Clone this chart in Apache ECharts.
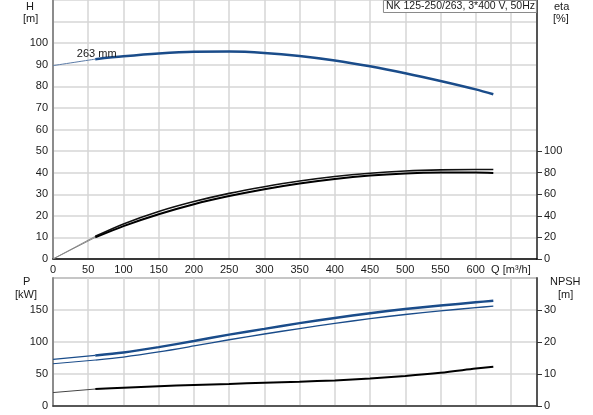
<!DOCTYPE html>
<html lang="en">
<head>
<meta charset="utf-8">
<title>NK 125-250/263 pump curves</title>
<style>
* { margin: 0; padding: 0; }
#chart-container { position: relative; width: 593px; height: 415px; overflow: hidden; background: #fff; }
</style>
</head>
<body>
<div id="chart-container"></div>
<script src="https://cdn.jsdelivr.net/npm/echarts@6/dist/echarts.min.js"></script>
<script>
// flow points (m3/h); the 0..60 part is drawn thin (extrapolated)
const qExt = [0, 60];
const q = [60, 100, 150, 200, 250, 300, 350, 400, 450, 500, 550, 600, 625];

// head H [m]
const headExt = [89.6, 92.6];
const head = [92.6, 93.9, 95.2, 96.0, 96.1, 95.5, 94.1, 92.0, 89.3, 86.1, 82.5, 78.6, 76.3];

// efficiency eta [%]
const etaAExt = [0, 21];
const etaA = [21, 32.5, 44, 53.2, 60.8, 67, 72.3, 76.5, 79.5, 81.5, 82.6, 83, 83];
const etaBExt = [0, 20];
const etaB = [20, 30.5, 41.5, 50.8, 58.3, 64.7, 70, 74.2, 77.3, 79.2, 80.1, 80.2, 79.8];

// power P1 / P2 [kW]
const p1Ext = [72.7, 79];
const p1 = [79, 83.6, 92, 101.5, 111.5, 120.5, 129.5, 137.5, 145, 151.5, 157, 162, 164.5];
const p2Ext = [66, 71.8];
const p2 = [71.8, 76.5, 84.5, 93.8, 103.5, 112.5, 121, 129, 136.5, 143, 148.5, 153.7, 156];

// NPSH [m]
const npshExt = [4.2, 5.3];
const npsh = [5.3, 5.7, 6.2, 6.6, 6.9, 7.3, 7.6, 8.0, 8.6, 9.4, 10.4, 11.7, 12.3];

const hLabels = [0, 10, 20, 30, 40, 50, 60, 70, 80, 90, 100];
const etaLabels = [0, 20, 40, 60, 80, 100];
const pLabels = [0, 50, 100, 150];
const npshLabels = [0, 10, 20, 30];

const BLUE = '#1a4c8a';
const FONT = 'Liberation Sans';

function pairs(xs, ys) {
  return xs.map((x, i) => [x, ys[i]]);
}
function withEndLabel(xs, ys, text, pos) {
  const d = pairs(xs, ys);
  const last = d.length - 1;
  d[last] = {
    value: d[last],
    label: { show: true, formatter: text, position: pos, distance: 3, color: BLUE, fontSize: 11, fontFamily: FONT }
  };
  return d;
}

var dom = document.getElementById('chart-container');
var myChart = echarts.init(dom, null, { renderer: 'canvas' });

const gridLine = { show: true, lineStyle: { color: '#d6d6d6', width: 1.5 } };
const labelStyle = { color: '#1a1a1a', fontSize: 11, fontFamily: FONT };

var option = {
  animation: false,
  textStyle: { fontFamily: FONT },
  title: {
    text: 'NK 125-250/263, 3*400 V, 50Hz',
    right: 56,
    top: 0,
    padding: [1, 2, 1, 3],
    borderColor: '#8a8a8a',
    borderWidth: 1,
    backgroundColor: '#fff',
    textStyle: { fontSize: 10.5, fontWeight: 'normal', color: '#1a1a1a', fontFamily: FONT }
  },
  grid: [
    { left: 53, right: 56, top: 0, bottom: 156 },
    { left: 53, right: 56, top: 278, bottom: 9, show: true, borderColor: '#333', borderWidth: 1 }
  ],
  xAxis: [
    {
      type: 'value', gridIndex: 0, min: 0, max: 687, interval: 50,
      axisLine: { show: true, lineStyle: { color: '#000', width: 1.5 } },
      axisTick: { show: false },
      axisLabel: Object.assign({}, labelStyle, {
        margin: 5,
        showMaxLabel: true,
        formatter: v => v === 650 ? 'Q [m³/h]' : (v % 50 === 0 && v < 650 ? String(v) : '')
      }),
      splitLine: gridLine
    },
    {
      type: 'value', gridIndex: 1, min: 0, max: 687, interval: 50,
      axisLine: { show: true, lineStyle: { color: '#333', width: 1.5 } },
      axisTick: { show: false },
      axisLabel: { show: false },
      splitLine: gridLine
    }
  ],
  yAxis: [
    {
      type: 'value', gridIndex: 0, min: 0, max: 120, interval: 10,
      axisLine: { show: true, onZero: false, lineStyle: { color: '#8c8c8c', width: 2 } },
      axisTick: { show: false },
      axisLabel: Object.assign({}, labelStyle, { margin: 5, customValues: hLabels }),
      splitLine: gridLine
    },
    {
      type: 'value', gridIndex: 0, position: 'right', min: 0, max: 240, interval: 20,
      axisLine: { show: true, onZero: false, lineStyle: { color: '#555', width: 2 } },
      axisTick: { show: true, length: 5, customValues: etaLabels, lineStyle: { color: '#333' } },
      axisLabel: Object.assign({}, labelStyle, { margin: 7, customValues: etaLabels }),
      splitLine: { show: false }
    },
    {
      type: 'value', gridIndex: 1, min: 0, max: 200, interval: 50,
      axisLine: { show: true, onZero: false, lineStyle: { color: '#8c8c8c', width: 2 } },
      axisTick: { show: false },
      axisLabel: Object.assign({}, labelStyle, { margin: 5, customValues: pLabels }),
      splitLine: gridLine
    },
    {
      type: 'value', gridIndex: 1, position: 'right', min: 0, max: 40, interval: 10,
      axisLine: { show: true, onZero: false, lineStyle: { color: '#555', width: 2 } },
      axisTick: { show: true, length: 5, customValues: npshLabels, lineStyle: { color: '#333' } },
      axisLabel: Object.assign({}, labelStyle, { margin: 7, customValues: npshLabels }),
      splitLine: { show: false }
    }
  ],
  graphic: [
    { type: 'text', left: 26, top: 1, style: { text: 'H', font: '11px ' + FONT, fill: '#1a1a1a' } },
    { type: 'text', left: 23, top: 13, style: { text: '[m]', font: '11px ' + FONT, fill: '#1a1a1a' } },
    { type: 'text', left: 554, top: 1, style: { text: 'eta', font: '11px ' + FONT, fill: '#1a1a1a' } },
    { type: 'text', left: 553, top: 13, style: { text: '[%]', font: '11px ' + FONT, fill: '#1a1a1a' } },
    { type: 'text', left: 23, top: 276, style: { text: 'P', font: '11px ' + FONT, fill: '#1a1a1a' } },
    { type: 'text', left: 15, top: 289, style: { text: '[kW]', font: '11px ' + FONT, fill: '#1a1a1a' } },
    { type: 'text', left: 550, top: 276, style: { text: 'NPSH', font: '11px ' + FONT, fill: '#1a1a1a' } },
    { type: 'text', left: 558, top: 289, style: { text: '[m]', font: '11px ' + FONT, fill: '#1a1a1a' } }
  ],
  series: [
    {
      type: 'line', xAxisIndex: 0, yAxisIndex: 0, showSymbol: false, smooth: 0.3,
      data: pairs(qExt, headExt), lineStyle: { color: '#5a7aa6', width: 1 },
      markPoint: {
        symbol: 'circle', symbolSize: 0,
        label: { show: true, formatter: '263 mm', position: 'inside', color: '#1a1a1a', fontSize: 11, fontFamily: FONT },
        data: [{ coord: [62, 95.2] }]
      }
    },
    {
      type: 'line', xAxisIndex: 0, yAxisIndex: 0, showSymbol: false, smooth: 0.3,
      data: pairs(q, head), lineStyle: { color: BLUE, width: 2.5 }
    },
    {
      type: 'line', xAxisIndex: 0, yAxisIndex: 1, showSymbol: false,
      data: pairs(qExt, etaAExt), lineStyle: { color: '#888', width: 1 }
    },
    {
      type: 'line', xAxisIndex: 0, yAxisIndex: 1, showSymbol: false,
      data: pairs(qExt, etaBExt), lineStyle: { color: '#888', width: 1 }
    },
    {
      type: 'line', xAxisIndex: 0, yAxisIndex: 1, showSymbol: false, smooth: 0.3,
      data: pairs(q, etaA), lineStyle: { color: '#111', width: 1.6 }
    },
    {
      type: 'line', xAxisIndex: 0, yAxisIndex: 1, showSymbol: false, smooth: 0.3,
      data: pairs(q, etaB), lineStyle: { color: '#000', width: 2 }
    },
    {
      type: 'line', xAxisIndex: 1, yAxisIndex: 2, showSymbol: false,
      data: pairs(qExt, p1Ext), lineStyle: { color: BLUE, width: 1.2 }
    },
    {
      type: 'line', xAxisIndex: 1, yAxisIndex: 2, showSymbol: false,
      data: pairs(qExt, p2Ext), lineStyle: { color: BLUE, width: 1 }
    },
    {
      type: 'line', xAxisIndex: 1, yAxisIndex: 2, showSymbol: false, smooth: 0.3,
      data: withEndLabel(q, p1, 'P1', 'top'), lineStyle: { color: BLUE, width: 2.5 }
    },
    {
      type: 'line', xAxisIndex: 1, yAxisIndex: 2, showSymbol: false, smooth: 0.3,
      data: withEndLabel(q, p2, 'P2', 'bottom'), lineStyle: { color: BLUE, width: 1.3 }
    },
    {
      type: 'line', xAxisIndex: 1, yAxisIndex: 3, showSymbol: false,
      data: pairs(qExt, npshExt), lineStyle: { color: '#444', width: 1 }
    },
    {
      type: 'line', xAxisIndex: 1, yAxisIndex: 3, showSymbol: false, smooth: 0.3,
      data: pairs(q, npsh), lineStyle: { color: '#000', width: 2 }
    }
  ]
};

myChart.setOption(option);
window.addEventListener('resize', myChart.resize);
</script>
</body>
</html>
